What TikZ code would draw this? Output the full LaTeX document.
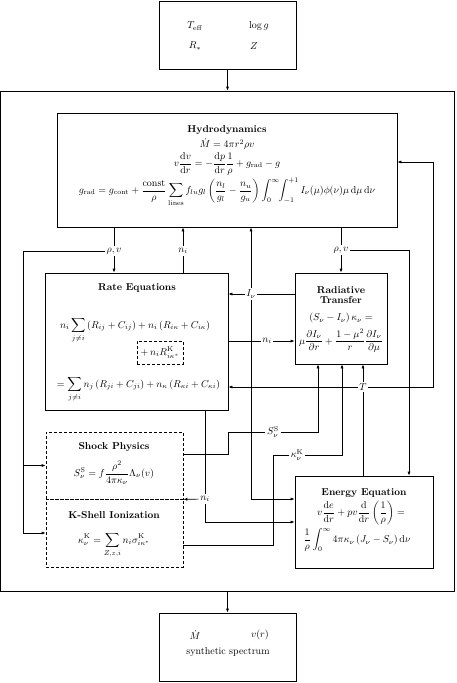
\documentclass[tikz,border=0pt]{standalone}
\usepackage{amsmath}
\usetikzlibrary{arrows.meta,calc}
\begin{document}
\begin{tikzpicture}[x=1pt,y=-1pt,
  box/.style={draw,line width=0.7pt,inner sep=0pt},
  dbox/.style={draw,line width=0.7pt,inner sep=0pt,dash pattern=on 3pt off 2pt},
  lab/.style={fill=white,inner sep=1.5pt},
  txt/.style={inner sep=0pt},
  ln/.style={line width=0.7pt},
  arr/.style={line width=0.7pt,-{Latex[length=4pt,width=3pt]}},
]
\useasboundingbox (0,0) rectangle (456,683);

% boxes
\node[box,minimum width=137pt,minimum height=68pt] (top) at (227.5,35) {};
\node[box,minimum width=137pt,minimum height=68pt] (bot) at (227.5,647) {};
\node[box,minimum width=454pt,minimum height=500pt] (outer) at (227.5,341) {};
\node[box,minimum width=340pt,minimum height=114pt] (hydro) at (227,170) {};
\node[box,minimum width=183pt,minimum height=137pt] (rate) at (136.5,341.5) {};
\node[box,minimum width=92pt,minimum height=91pt] (rt) at (341,318.5) {};
\node[dbox,minimum width=137pt,minimum height=67pt] (shock) at (114.5,465.5) {};
\node[dbox,minimum width=137pt,minimum height=68pt] (kshell) at (114.5,533) {};
\node[box,minimum width=138pt,minimum height=92pt] (energy) at (364,522) {};

% top box text
\node[txt] (teff) at (195,26) {$T_{\mathrm{eff}}$};
\node[txt] (logg) at (259,26) {$\log g$};
\node[txt] (rstar) at (195,46) {$R_*$};
\node[txt] (zz) at (254,46) {$Z$};

% bottom box text
\node[txt] (mdot) at (195,635) {$\dot M$};
\node[txt] (vr) at (260,635) {$v(r)$};
\node[txt] (spec) at (228,652) {synthetic spectrum};

% hydro
\node[txt] (hT) at (227,130) {\textbf{Hydrodynamics}};
\node[txt] (h1) at (227,144) {$\dot M = 4\pi r^2\rho v$};
\node[txt] (h2) at (227,164) {$\displaystyle v\frac{\mathrm dv}{\mathrm dr} = -\frac{\mathrm dp}{\mathrm dr}\frac{1}{\rho} + g_{\mathrm{rad}} - g$};
\node[txt] (h3) at (227,192) {$\displaystyle g_{\mathrm{rad}} = g_{\mathrm{cont}} + \frac{\mathrm{const}}{\rho}\sum_{\mathrm{lines}} f_{lu}g_l\left(\frac{n_l}{g_l}-\frac{n_u}{g_u}\right)\int_0^\infty\!\!\int_{-1}^{+1} I_\nu(\mu)\phi(\nu)\mu\,\mathrm d\mu\,\mathrm d\nu$};

% rate
\node[txt] (rT) at (137,288) {\textbf{Rate Equations}};
\node[txt] (r1) at (135,330) {$\displaystyle n_i\sum_{j\neq i}\left(R_{ij}+C_{ij}\right) + n_i\left(R_{i\kappa}+C_{i\kappa}\right)$};
\node[dbox,inner sep=2pt,minimum width=46pt,minimum height=23pt] (rK) at (160,352.5) {$+\,n_iR^{\mathrm K}_{i\kappa^*}$};
\node[txt] (r3) at (138.5,389) {$\displaystyle =\sum_{j\neq i}n_j\left(R_{ji}+C_{ji}\right) + n_\kappa\left(R_{\kappa i}+C_{\kappa i}\right)$};

% radiative transfer
\node[txt,align=center] (tT) at (341,295) {\textbf{Radiative}\\[-2pt]\textbf{Transfer}};
\node[txt] (t1) at (341,318) {$(S_\nu - I_\nu)\,\kappa_\nu =$};
\node[txt] (t2) at (341,341) {$\displaystyle \mu\frac{\partial I_\nu}{\partial r} + \frac{1-\mu^2}{r}\frac{\partial I_\nu}{\partial\mu}$};

% shock
\node[txt] (sT) at (114,447) {\textbf{Shock Physics}};
\node[txt] (s1) at (114,473) {$\displaystyle S^{\mathrm S}_\nu = f\frac{\rho^2}{4\pi\kappa_\nu}\Lambda_\nu(v)$};

% k-shell
\node[txt] (kT) at (114,515) {\textbf{K-Shell Ionization}};
\node[txt] (k1) at (114,545) {$\displaystyle \kappa^{\mathrm K}_\nu = \sum_{Z,z,i} n_i\sigma^{\mathrm K}_{i\kappa^*}$};

% energy
\node[txt] (eT) at (364,493) {\textbf{Energy Equation}};
\node[txt] (e1) at (361,513) {$\displaystyle v\frac{\mathrm de}{\mathrm dr} + pv\frac{\mathrm d}{\mathrm dr}\left(\frac{1}{\rho}\right) =$};
\node[txt] (e2) at (357,540) {$\displaystyle \frac{1}{\rho}\int_0^\infty 4\pi\kappa_\nu\left(J_\nu - S_\nu\right)\mathrm d\nu$};

% helper coordinates
\coordinate (yHin) at (0,162);
\coordinate (xT) at (433,0);
\coordinate (xRV) at (409,0);
\coordinate (xL) at (23,0);
\coordinate (y499) at (0,499);
\coordinate (y522) at (0,522);
\coordinate (y454) at (0,454);
\coordinate (y545) at (0,545);
\coordinate (x228) at (228,0);
\coordinate (x273) at (273,0);
\coordinate (x318) at (318,0);
\coordinate (x342) at (342,0);

% labels
\node[lab] (rvL) at (114,251) {$\rho,v$};
\node[lab] (niU) at (183,251) {$n_i$};
\node[lab] (rvR) at (341,250) {$\rho,v$};
\node[lab] (Inu) at (251,294) {$I_\nu$};
\node[lab] (niR) at (267,341) {$n_i$};
\node[lab] (T) at (363,387) {$T$};
\node[lab] (SS) at (273,432) {$S^{\mathrm S}_\nu$};
\node[lab] (kK) at (297,455) {$\kappa^{\mathrm K}_\nu$};
\node[lab] (niD) at (205,499) {$n_i$};

% connectors
\draw[arr] (top) -- (outer.north -| top);
\draw[arr] (outer.south -| bot) -- (bot);

\draw[ln] (hydro.south -| rvL) -- (rvL);
\draw[arr] (rvL) -- (rate.north -| rvL);
\draw[arr] (rvL) -| (xL |- kshell.west) -- (kshell.west);
\draw[arr] (xL |- shock.west) -- (shock.west);

\draw[ln] (rate.north -| niU) -- (niU);
\draw[arr] (niU) -- (hydro.south -| niU);

\draw[ln] (hydro.south -| rvR) -- (rvR);
\draw[arr] (rvR) -- (rt.north -| rvR);
\draw[arr] (rvR) -| (energy.north -| xRV);

\draw[ln] (rt.west |- Inu) -- (Inu);
\draw[arr] (Inu) -- (rate.east |- Inu);
\draw[arr] (Inu) -- (hydro.south -| Inu);
\draw[arr] (Inu) |- (energy.west |- y499);

\draw[ln] (rate.east |- niR) -- (niR);
\draw[arr] (niR) -- (rt.west |- niR);

\draw[ln] (energy.north -| T) -- (T);
\draw[arr] (T) -- (rt.south -| T);
\draw[arr] (T) -- (rate.east |- T);
\draw[arr] (T) -| (xT |- yHin) -- (hydro.east |- yHin);

\draw[ln] (shock.east |- y454) -| (x228 |- SS) -- (SS);
\draw[arr] (SS) -| (rt.south -| x318);

\draw[ln] (kshell.east |- y545) -| (x273 |- kK) -- (kK);
\draw[arr] (kK) -| (rt.south -| x342);

\draw[ln] (rate.south -| niD) -- (niD);
\draw[arr] (niD) -- (shock.south east);
\draw[arr] (niD) |- (energy.west |- y522);
\end{tikzpicture}
\end{document}
